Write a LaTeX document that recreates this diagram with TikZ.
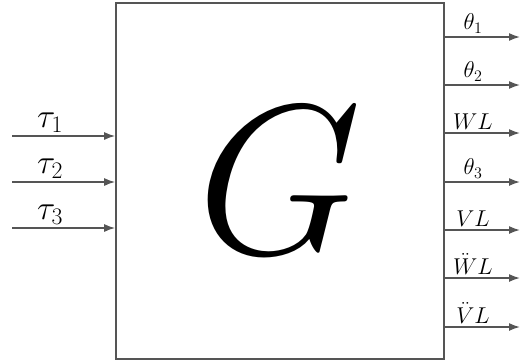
\RequirePackage{fix-cm}
\documentclass[tikz,border=0pt]{standalone}
\usepackage{tikz}
\usetikzlibrary{positioning, arrows.meta}
\definecolor{wire}{HTML}{555555}

\begin{document}
\begin{tikzpicture}[
    x=1bp, y=-1bp,
    >={Latex[length=11bp,width=8bp]},
    line width=1.6bp,
    sysbox/.style={
        draw=wire,
        minimum width=328bp,
        minimum height=356bp,
        inner sep=0pt,
        font=\fontsize{214}{224}\selectfont
    },
    wire/.style={draw=wire, ->},
    inlabel/.style={anchor=south, inner sep=1bp, font=\fontsize{34}{38}\selectfont},
    outlabel/.style={anchor=south, inner sep=1bp, font=\fontsize{23}{26}\selectfont}
]
\useasboundingbox (0,0) rectangle (522,362);

\node[sysbox] (G) at (280,181) {$G$};

% inputs
\foreach \i/\y in {1/136, 2/182, 3/228} {
    \coordinate (in\i) at (12,\y);
    \draw[wire] (in\i) -- (in\i -| G.west);
    \node[inlabel] (tau\i) at (50,\y-2) {$\tau_\i$};
}

% outputs
\foreach \i/\y/\lab in {1/37/\theta_1, 2/85/\theta_2, 3/133/WL, 4/182/\theta_3,
                        5/230/VL, 6/278/\ddot{W}L, 7/327/\ddot{V}L} {
    \coordinate (out\i) at (520,\y);
    \draw[wire] (out\i -| G.east) -- (out\i);
    \node[outlabel] (y\i) at (473,\y-2) {$\lab$};
}

\end{tikzpicture}
\end{document}
